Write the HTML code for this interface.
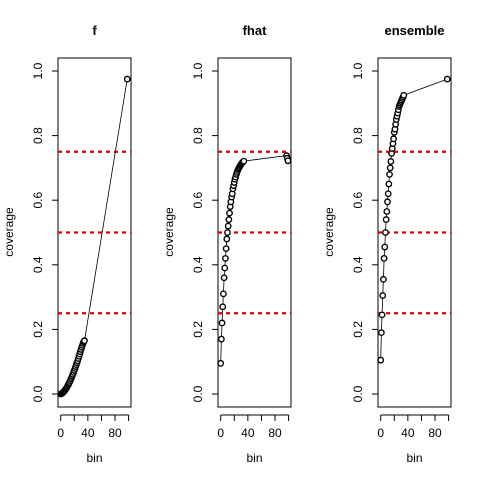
<!DOCTYPE html>
<html><head><meta charset="utf-8"><style>
body{margin:0;background:#fff}
svg text{font-family:"Liberation Sans",Arial,sans-serif}
</style></head><body>
<svg id="c" width="480" height="480" viewBox="0 0 480 480"></svg>
<script>
const titles=["f","fhat","ensemble"];
const fBins=[0,1,2,3,4,5,6,7,8,9,10,11,12,13,14,15,16,17,18,19,20,21,22,23,24,25,26,27,28,29,30,31,32,33,34,35,98];
const fVals=[0.0,0.001,0.002,0.004,0.006,0.008,0.011,0.014,0.017,0.02,0.024,0.028,0.032,0.036,0.041,0.046,0.051,0.056,0.061,0.067,0.073,0.079,0.085,0.091,0.097,0.103,0.11,0.117,0.124,0.131,0.138,0.145,0.151,0.157,0.162,0.165,0.975];
const fhatBins=[0,1,2,3,4,5,6,7,8,9,10,11,12,13,14,15,16,17,18,19,20,21,22,23,24,25,26,27,28,29,30,31,32,33,34,97,98,99];
const fhatVals=[0.095,0.17,0.22,0.27,0.31,0.36,0.39,0.42,0.45,0.48,0.5,0.52,0.54,0.56,0.58,0.595,0.61,0.62,0.635,0.645,0.655,0.665,0.672,0.68,0.686,0.692,0.697,0.7,0.704,0.708,0.711,0.714,0.717,0.719,0.721,0.738,0.73,0.722];
const ensBins=[0,1,2,3,4,5,6,7,8,9,10,11,12,13,14,15,16,17,18,19,20,21,22,23,24,25,26,27,28,29,30,31,32,33,34,98];
const ensVals=[0.105,0.19,0.245,0.305,0.355,0.42,0.455,0.5,0.54,0.565,0.595,0.62,0.65,0.68,0.7,0.72,0.745,0.76,0.775,0.79,0.81,0.82,0.835,0.85,0.86,0.87,0.88,0.89,0.895,0.9,0.905,0.91,0.915,0.92,0.925,0.975];
const refLines=[0.25,0.5,0.75];
const yTicks=[0,0.2,0.4,0.6,0.8,1.0];
const xTicks=[0,20,40,60,80,100];
const xLabels=[0,40,80];
const series=[[fBins,fVals],[fhatBins,fhatVals],[ensBins,ensVals]];
const NS="http://www.w3.org/2000/svg";
const svg=document.getElementById('c');
function mk(t,a,p){const e=document.createElementNS(NS,t);for(const k in a)e.setAttribute(k,a[k]);(p||svg).appendChild(e);return e;}
series.forEach((s,pi)=>{
  const L=58+pi*160,R=L+73,T=58,B=407;
  const xs=v=>L+2.7+v*0.679, ys=v=>394-v*323;
  const g=mk('g',{});
  
  
  const t=mk('text',{x:(L+R)/2,y:35,'text-anchor':'middle','font-size':13,'font-weight':'bold'},g);t.textContent=titles[pi];
  
  
  const box=mk('rect',{x:L,y:T,width:R-L,height:B-T,fill:'none',stroke:'#000','stroke-width':1},g);
  
  
  yTicks.forEach(v=>{mk('line',{x1:L-6,x2:L,y1:ys(v),y2:ys(v),stroke:'#000'},g);
    const tx=mk('text',{x:0,y:0,'text-anchor':'middle','font-size':12,transform:`translate(${L-16},${ys(v)}) rotate(-90)`},g);tx.textContent=v.toFixed(1);
    
    });
  mk('line',{x1:xs(0),x2:xs(100),y1:415,y2:415,stroke:'#000'},g);
  xTicks.forEach(v=>mk('line',{x1:xs(v),x2:xs(v),y1:415,y2:421,stroke:'#000'},g));
  xLabels.forEach(v=>{const tx=mk('text',{x:xs(v),y:437,'text-anchor':'middle','font-size':12},g);tx.textContent=v;
    
    });
  const xl=mk('text',{x:(L+R)/2,y:462,'text-anchor':'middle','font-size':12},g);xl.textContent='bin';
  
  
  const yl=mk('text',{x:0,y:0,'text-anchor':'middle','font-size':12,transform:`translate(${L-45},232) rotate(-90)`},g);yl.textContent='coverage';
  
  
  refLines.forEach(v=>{const l=mk('line',{x1:L,x2:R,y1:ys(v),y2:ys(v),stroke:'#e00000','stroke-width':2.2,'stroke-dasharray':'4,4'},g);
    
    });
  const pts=s[0].map((b,i)=>xs(b)+','+ys(s[1][i])).join(' ');
  mk('polyline',{points:pts,fill:'none',stroke:'#000','stroke-width':0.8},g);
  s[0].forEach((b,i)=>{const c=mk('circle',{cx:xs(b),cy:ys(s[1][i]),r:2.7,fill:'#fff',stroke:'#000','stroke-width':1.4},g);
    
    });
});
</script>
</body></html>
